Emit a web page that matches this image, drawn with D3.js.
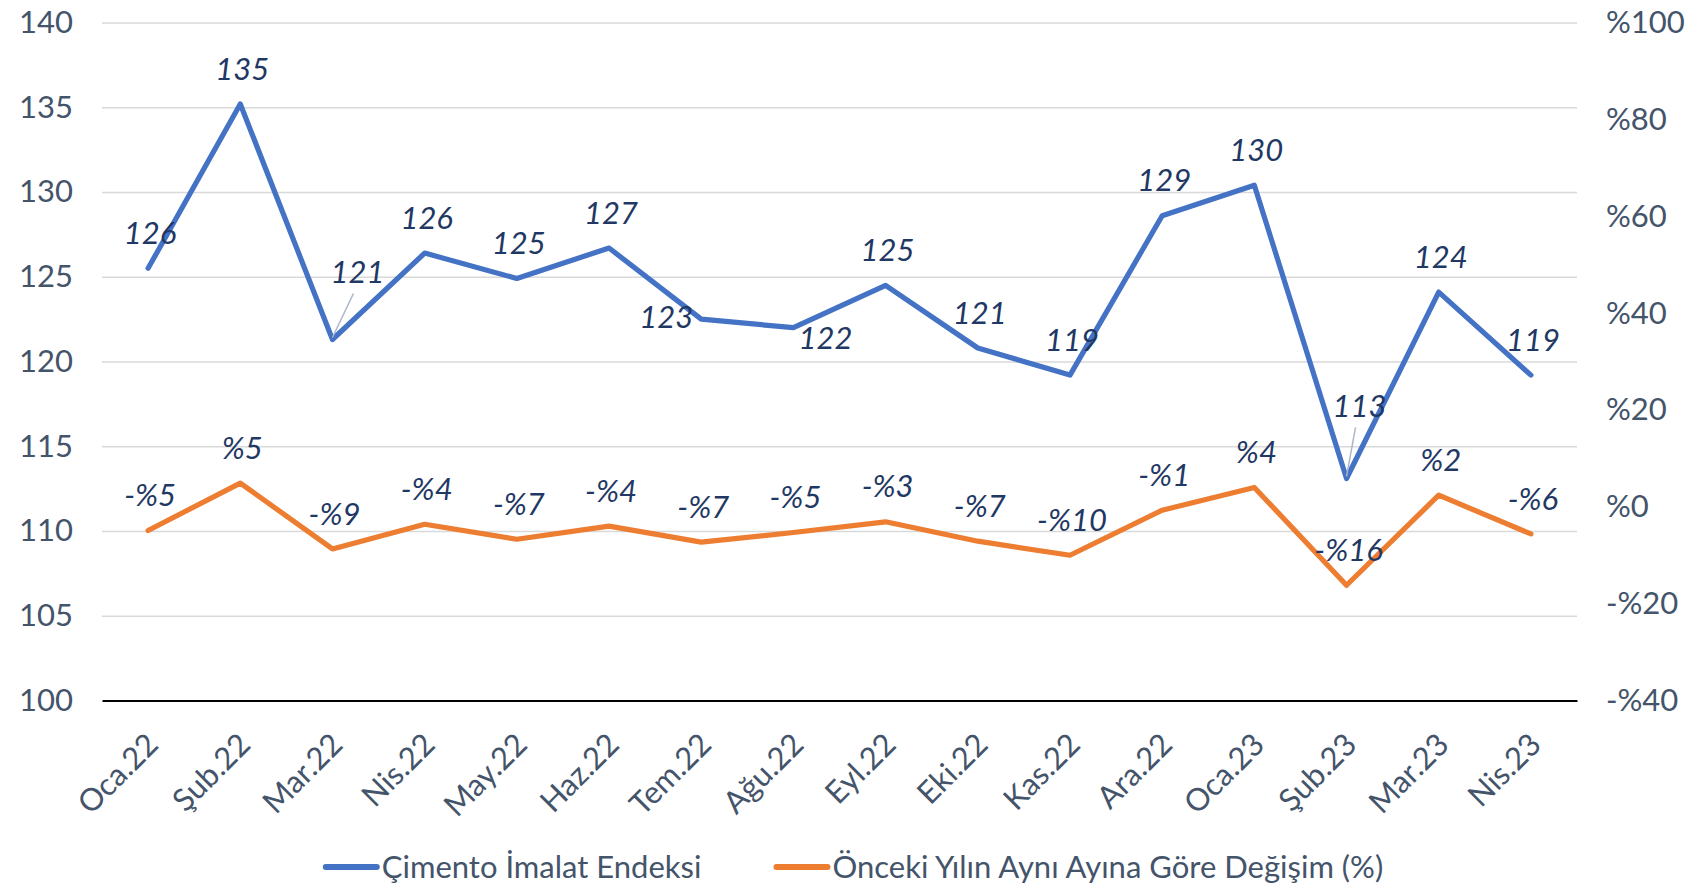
<!DOCTYPE html>
<html>
<head>
<meta charset="utf-8">
<script src="https://cdn.jsdelivr.net/npm/d3@7"></script>
<style>
  body { margin: 0; background: #fff; }
  svg text { font-family: Lato, "Noto Sans", sans-serif; font-size: 31px; }
  .value-label { font-style: italic; fill: #1f3864; }
</style>
</head>
<body>
<svg id="chart" width="1687" height="887"></svg>
<script>
'use strict';

const MONTHS = ['Oca.22', 'Şub.22', 'Mar.22', 'Nis.22', 'May.22', 'Haz.22', 'Tem.22', 'Ağu.22',
    'Eyl.22', 'Eki.22', 'Kas.22', 'Ara.22', 'Oca.23', 'Şub.23', 'Mar.23', 'Nis.23'];
const CEMENT_INDEX = [125.5, 135.2, 121.3, 126.4, 124.9, 126.7, 122.5, 122.0,
    124.5, 120.8, 119.2, 128.6, 130.4, 113.1, 124.1, 119.2];
const YOY_CHANGE = [-4.9, 4.9, -8.7, -3.6, -6.7, -4.0, -7.3, -5.3,
    -3.1, -7.1, -10.0, -0.7, 4.0, -16.2, 2.4, -5.6];
const LEFT_TICKS = [100, 105, 110, 115, 120, 125, 130, 135, 140];
const RIGHT_TICKS = [-40, -20, 0, 20, 40, 60, 80, 100];
const SERIES_NAMES = ['Çimento İmalat Endeksi', 'Önceki Yılın Aynı Ayına Göre Değişim (%)'];

const BLUE = '#4472c4';
const ORANGE = '#ed7d31';
const AXIS_TEXT = '#44546a';

const PLOT = { left: 102, right: 1577, top: 22.6, bottom: 700.5 };

// labels that Excel moved off their default "above" spot: [dx, dy, leader line]
const BLUE_LABEL_SHIFT = { 2: [25, -68, true], 6: [-35, -2], 7: [32, 10], 13: [13, -73, true] };
const DEFAULT_SHIFT = [2, -35.5];

function pct(v) {
    const r = Math.round(v);
    return (r < 0 ? '-' : '') + '%' + Math.abs(r);
}

const svg = d3.select('#chart');

const x = d3.scaleBand().domain(MONTHS).range([PLOT.left, PLOT.right]);
function cx(i) {
    return x(MONTHS[i]) + x.bandwidth() / 2;
}
const yLeft = d3.scaleLinear().domain([100, 140]).range([PLOT.bottom, PLOT.top]);
const yRight = d3.scaleLinear().domain([-40, 100]).range([PLOT.bottom, PLOT.top]);

// gridlines
svg.append('g')
    .attr('transform', 'translate(' + PLOT.left + ',0)')
    .call(d3.axisLeft(yLeft)
        .tickValues(LEFT_TICKS.slice(1))
        .tickSize(-(PLOT.right - PLOT.left))
        .tickFormat(''))
    .call(function(g) { g.select('.domain').remove(); })
    .selectAll('line')
    .attr('stroke', '#d9d9d9')
    .attr('stroke-width', 1.5);

// left axis
svg.append('g')
    .attr('transform', 'translate(' + PLOT.left + ',0)')
    .attr('color', AXIS_TEXT)
    .call(d3.axisLeft(yLeft).tickValues(LEFT_TICKS).tickSize(0).tickPadding(29))
    .call(function(g) { g.select('.domain').remove(); });

// right axis
svg.append('g')
    .attr('transform', 'translate(' + PLOT.right + ',0)')
    .attr('color', AXIS_TEXT)
    .call(d3.axisRight(yRight).tickValues(RIGHT_TICKS).tickSize(0).tickPadding(29).tickFormat(pct))
    .call(function(g) { g.select('.domain').remove(); });

// category axis
const xAxis = svg.append('g')
    .attr('transform', 'translate(0,' + PLOT.bottom + ')')
    .attr('color', AXIS_TEXT)
    .call(d3.axisBottom(x).tickSize(0).tickSizeOuter(0));
xAxis.select('.domain')
    .attr('stroke', '#000')
    .attr('stroke-width', 2);
xAxis.selectAll('text')
    .attr('y', 0)
    .attr('dy', 0)
    .attr('text-anchor', 'end')
    .attr('transform', 'translate(12,46) rotate(-45)');

// lines
const series = [
    { values: CEMENT_INDEX, y: yLeft, color: BLUE },
    { values: YOY_CHANGE, y: yRight, color: ORANGE },
];
series.forEach(function(s) {
    svg.append('path')
        .datum(s.values)
        .attr('fill', 'none')
        .attr('stroke', s.color)
        .attr('stroke-width', 5.2)
        .attr('stroke-linejoin', 'round')
        .attr('stroke-linecap', 'round')
        .attr('d', d3.line()
            .x(function(d, i) { return cx(i); })
            .y(function(d) { return s.y(d); }));
});

// leader lines for shifted labels
const leaders = Object.keys(BLUE_LABEL_SHIFT)
    .map(Number)
    .filter(function(i) { return BLUE_LABEL_SHIFT[i][2]; });
svg.append('g').selectAll('line')
    .data(leaders)
    .join('line')
    .attr('x1', function(i) { return cx(i); })
    .attr('y1', function(i) { return yLeft(CEMENT_INDEX[i]) - 2; })
    .attr('x2', function(i) { return cx(i) + BLUE_LABEL_SHIFT[i][0] - 4; })
    .attr('y2', function(i) { return yLeft(CEMENT_INDEX[i]) + BLUE_LABEL_SHIFT[i][1] + 22; })
    .attr('stroke', '#aab6ca')
    .attr('stroke-width', 1.5);

// data labels
svg.append('g').selectAll('text')
    .data(CEMENT_INDEX)
    .join('text')
    .attr('class', 'value-label')
    .attr('text-anchor', 'middle')
    .attr('dy', '0.36em')
    .attr('x', function(d, i) { return cx(i) + (BLUE_LABEL_SHIFT[i] || DEFAULT_SHIFT)[0]; })
    .attr('y', function(d, i) { return yLeft(d) + (BLUE_LABEL_SHIFT[i] || DEFAULT_SHIFT)[1]; })
    .text(function(d) { return Math.round(d); });

svg.append('g').selectAll('text')
    .data(YOY_CHANGE)
    .join('text')
    .attr('class', 'value-label')
    .attr('text-anchor', 'middle')
    .attr('dy', '0.36em')
    .attr('x', function(d, i) { return cx(i) + DEFAULT_SHIFT[0]; })
    .attr('y', function(d) { return yRight(d) + DEFAULT_SHIFT[1]; })
    .text(pct);

// legend
const legend = svg.append('g');
const MARKER = 57, GAP = 2, ITEM_GAP = 72;
let lx = 0;
SERIES_NAMES.forEach(function(name, i) {
    const item = legend.append('g');
    item.append('line')
        .attr('x1', 3).attr('x2', MARKER - 3)
        .attr('stroke', series[i].color)
        .attr('stroke-width', 6)
        .attr('stroke-linecap', 'round');
    const t = item.append('text')
        .attr('x', MARKER + GAP)
        .attr('dy', '0.36em')
        .attr('fill', AXIS_TEXT)
        .text(name);
    item.attr('transform', 'translate(' + lx + ',0)');
    lx += MARKER + GAP + t.node().getComputedTextLength() + ITEM_GAP;
});
const legendWidth = lx - ITEM_GAP;
legend.attr('transform', 'translate(' + (853 - legendWidth / 2) + ',867)');
</script>
</body>
</html>
